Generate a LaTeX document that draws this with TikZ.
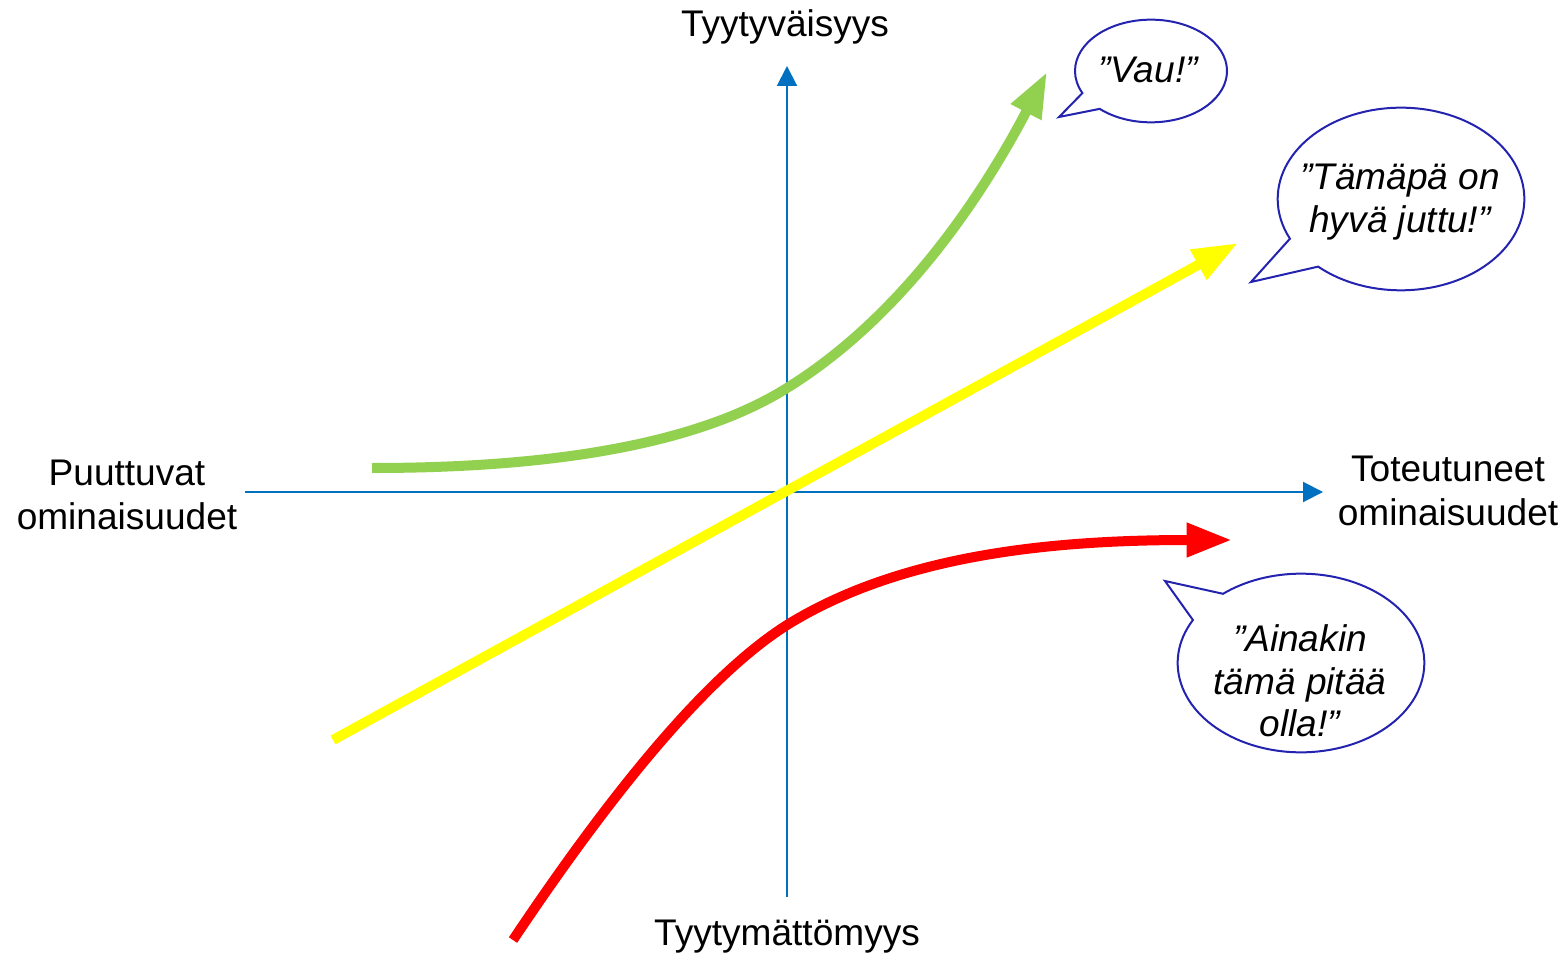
\documentclass[tikz,border=0pt]{standalone}
\usepackage{fontspec}
\setmainfont{Liberation Sans}
\usetikzlibrary{arrows.meta,shapes.callouts}
\definecolor{axisblue}{RGB}{0,112,192}
\definecolor{bubbleblue}{RGB}{35,35,175}
\definecolor{kgreen}{RGB}{146,208,80}
\definecolor{kyellow}{RGB}{255,255,0}
\definecolor{kred}{RGB}{255,0,0}
\begin{document}
\begin{tikzpicture}[x=0.75pt,y=-0.75pt,
  axis/.style={draw=axisblue,line width=1.5pt,-{Triangle[length=15pt,width=15pt]}},
  curve/.style={line width=7.5pt,-{Triangle[length=34pt,width=24pt]}},
  lbl/.style={font=\fontsize{27.8}{33}\selectfont,align=center,inner sep=0pt},
  quote/.style={font=\fontsize{27.8}{32}\selectfont\itshape,align=center,inner sep=0pt},
  bubble/.style={ellipse callout,draw=bubbleblue,line width=1.5pt,fill=white,callout pointer arc=22,inner sep=0pt}]
\useasboundingbox (0,0) rectangle (1566,955);
\fill[white] (0,0) rectangle (1566,955);
% axes
\coordinate (xl) at (245,492); \coordinate (xr) at (1323,492);
\coordinate (yb) at (787,897); \coordinate (yt) at (787,66);
\draw[axis] (xl) -- (xr);
\draw[axis] (yb) -- (yt);
% axis labels
\node[lbl,anchor=base] (sat) at (785,37) {Tyytyväisyys};
\node[lbl,anchor=base] (dis) at (787,945) {Tyytymättömyys};
\node[lbl] (miss) at (127,495) {Puuttuvat\\ominaisuudet};
\node[lbl] (done) at (1448,491) {Toteutuneet\\ominaisuudet};
% curves
\coordinate (g0) at (372,468); \coordinate (g1) at (787,388); \coordinate (g2) at (1047,72);
\draw[curve,kgreen] (g0) .. controls (600,468) and (720,430) .. (g1) .. controls (900,318) and (980,200) .. (g2);
\coordinate (y0) at (333,740); \coordinate (y1) at (1238,243);
\draw[curve,kyellow] (y0) -- (y1);
\coordinate (r0) at (513,940); \coordinate (r1) at (787,625); \coordinate (r2) at (1232,540);
\draw[curve,kred] (r0) .. controls (600,810) and (700,680) .. (r1) .. controls (900,555) and (1050,540) .. (r2);
% bubbles
\node[bubble,minimum width=114pt,minimum height=77pt,callout absolute pointer={(1059,117)}] (vau) at (1151,71) {};
\node[quote] (vautxt) at (1148,70) {”Vau!”};
\node[bubble,minimum width=185pt,minimum height=137pt,callout absolute pointer={(1251,282)}] (tam) at (1401,199) {};
\node[quote] (tamtxt) at (1400,202) {”Tämäpä on\\hyvä juttu!”};
\node[bubble,minimum width=185pt,minimum height=134pt,callout absolute pointer={(1165,581)}] (ain) at (1301,663) {};
\node[quote] (aintxt) at (1300,681) {”Ainakin\\tämä pitää\\olla!”};
\end{tikzpicture}
\end{document}
